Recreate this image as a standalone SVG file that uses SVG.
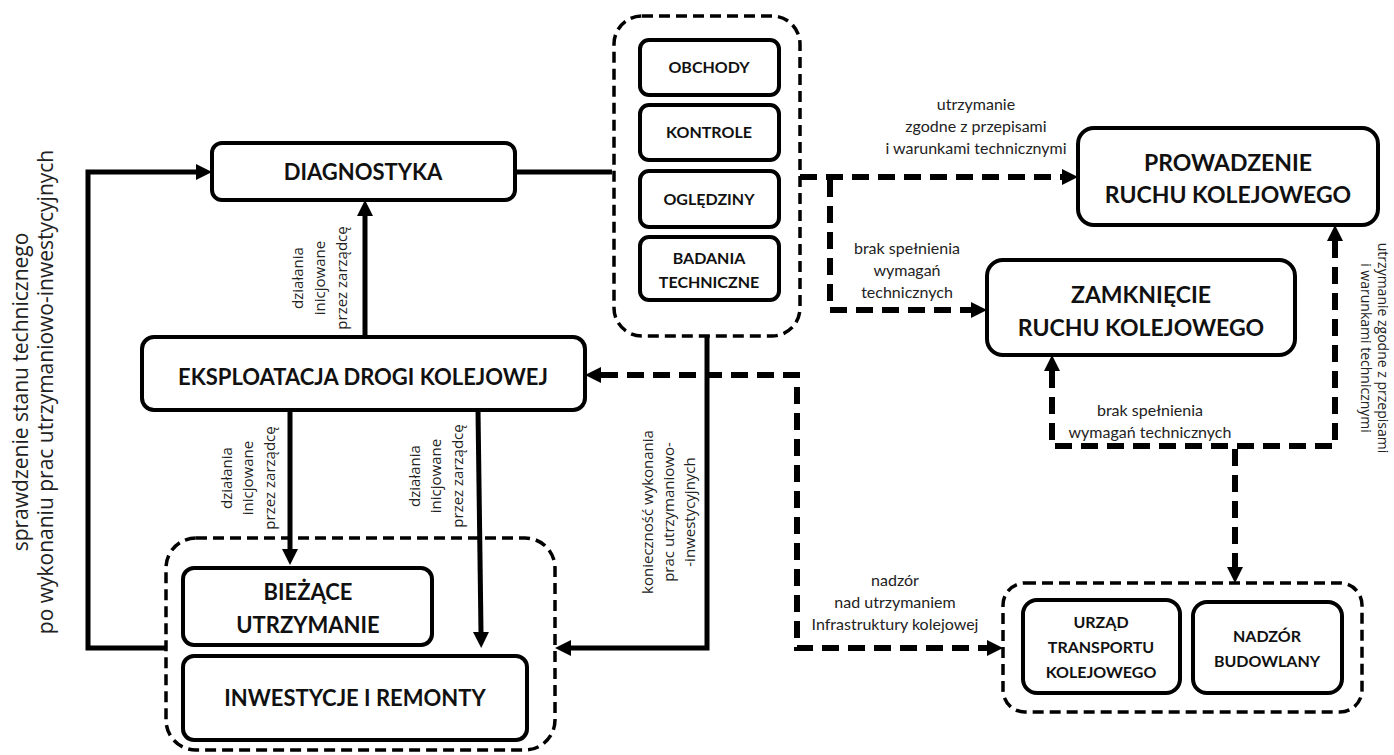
<svg xmlns="http://www.w3.org/2000/svg" width="1394" height="755" viewBox="0 0 1394 755">
  <style>
    .box { fill: #fff; stroke: #000; stroke-width: 4; }
    .grp { fill: none; stroke: #000; stroke-width: 3.5; stroke-dasharray: 11 6; }
    .solid { fill: none; stroke: #000; stroke-width: 5; }
    .dash { fill: none; stroke: #000; stroke-width: 6; stroke-dasharray: 17 9; }
    .t { font-family: Lato, "Liberation Sans", sans-serif; font-weight: bold; fill: #111; text-anchor: middle; }
    .lbl { font-family: Lato, "Liberation Sans", sans-serif; font-size: 16px; fill: #222; text-anchor: middle; }
    .rot { font-family: "Open Sans", "DejaVu Sans", sans-serif; fill: #222; text-anchor: middle; }
  </style>
  <defs>
    <marker id="ah" viewBox="0 0 16 16" markerWidth="16" markerHeight="16" refX="0" refY="8" markerUnits="userSpaceOnUse" orient="auto-start-reverse">
      <path d="M0,0 L16,8 L0,16 Z" fill="#000"/>
    </marker>
  </defs>
  <rect width="1394" height="755" fill="#fff"/>

  <!-- connectors -->
  <g id="connectors">
    <path class="solid" d="M165,648 H88 V172 H196" marker-end="url(#ah)"/>
    <path class="solid" d="M515,172 H612"/>
    <path class="solid" d="M365,337 V216" marker-end="url(#ah)"/>
    <path class="solid" d="M290,410 V549" marker-end="url(#ah)"/>
    <path class="solid" d="M478,410 L481,632" marker-end="url(#ah)"/>
    <path class="solid" d="M707,335 V648 H571" marker-end="url(#ah)"/>
    <path class="dash" d="M601,375 H797 V648 H987" marker-start="url(#ah)" marker-end="url(#ah)"/>
    <path class="dash" d="M800,177 H1062" marker-end="url(#ah)"/>
    <path class="dash" d="M830,180 V310 H971" marker-end="url(#ah)"/>
    <path class="dash" d="M1052,371 V446 H1335 V241" marker-start="url(#ah)" marker-end="url(#ah)"/>
    <path class="dash" d="M1235,449 V567" marker-end="url(#ah)"/>
  </g>

  <!-- side notes -->
  <g id="note-left" class="rot" font-size="21">
    <text transform="translate(28,392) rotate(-90)">sprawdzenie stanu technicznego</text>
    <text transform="translate(53,392) rotate(-90)">po wykonaniu prac utrzymaniowo-inwestycyjnych</text>
  </g>
  <g id="note-right" class="rot" font-size="14">
    <text transform="translate(1378,348) rotate(90)">utrzymanie zgodne z przepisami</text>
    <text transform="translate(1361,348) rotate(90)">i warunkami technicznymi</text>
  </g>

  <!-- connector labels -->
  <g id="labels">
    <g class="rot" font-size="15">
      <text transform="translate(303,278) rotate(-90)">działania</text>
      <text transform="translate(325,278) rotate(-90)">inicjowane</text>
      <text transform="translate(347,278) rotate(-90)">przez zarządcę</text>

      <text transform="translate(232,478) rotate(-90)">działania</text>
      <text transform="translate(253,478) rotate(-90)">inicjowane</text>
      <text transform="translate(275,478) rotate(-90)">przez zarządcę</text>

      <text transform="translate(420,476) rotate(-90)">działania</text>
      <text transform="translate(441,476) rotate(-90)">inicjowane</text>
      <text transform="translate(463,476) rotate(-90)">przez zarządcę</text>

      <text transform="translate(653,512) rotate(-90)">konieczność wykonania</text>
      <text transform="translate(674,512) rotate(-90)">prac utrzymaniowo-</text>
      <text transform="translate(695,512) rotate(-90)">-inwestycyjnych</text>
    </g>
    <text class="lbl" x="976" y="110">utrzymanie</text>
    <text class="lbl" x="976" y="132">zgodne z przepisami</text>
    <text class="lbl" x="976" y="154">i warunkami technicznymi</text>

    <text class="lbl" x="907" y="254">brak spełnienia</text>
    <text class="lbl" x="907" y="276">wymagań</text>
    <text class="lbl" x="907" y="298">technicznych</text>

    <text class="lbl" x="1150" y="416">brak spełnienia</text>
    <text class="lbl" x="1150" y="438">wymagań technicznych</text>

    <text class="lbl" x="895" y="586">nadzór</text>
    <text class="lbl" x="895" y="608">nad utrzymaniem</text>
    <text class="lbl" x="895" y="630">Infrastruktury kolejowej</text>
  </g>

  <!-- nodes -->
  <g id="diagnostyka">
    <rect class="box" x="212" y="143" width="303" height="57" rx="10"/>
    <text class="t" x="363" y="180" font-size="22">DIAGNOSTYKA</text>
  </g>

  <g id="eksploatacja">
    <rect class="box" x="142" y="337" width="443" height="73" rx="12"/>
    <text class="t" x="363" y="385" font-size="22">EKSPLOATACJA DROGI KOLEJOWEJ</text>
  </g>

  <g id="metody-diagnostyki">
    <rect class="grp" x="614" y="16" width="186" height="320" rx="28"/>
    <g id="obchody">
      <rect class="box" x="640" y="40" width="139" height="55" rx="9"/>
      <text class="t" x="709" y="73" font-size="16">OBCHODY</text>
    </g>
    <g id="kontrole">
      <rect class="box" x="640" y="105" width="139" height="55" rx="9"/>
      <text class="t" x="709" y="138" font-size="16">KONTROLE</text>
    </g>
    <g id="ogledziny">
      <rect class="box" x="640" y="171" width="139" height="56" rx="9"/>
      <text class="t" x="709" y="205" font-size="16">OGLĘDZINY</text>
    </g>
    <g id="badania">
      <rect class="box" x="640" y="237" width="139" height="63" rx="9"/>
      <text class="t" x="709" y="264" font-size="16">BADANIA</text>
      <text class="t" x="709" y="288" font-size="16">TECHNICZNE</text>
    </g>
  </g>

  <g id="prowadzenie">
    <rect class="box" x="1078" y="128" width="300" height="97" rx="16"/>
    <text class="t" x="1228" y="171" font-size="23">PROWADZENIE</text>
    <text class="t" x="1228" y="203" font-size="23">RUCHU KOLEJOWEGO</text>
  </g>

  <g id="zamkniecie">
    <rect class="box" x="987" y="260" width="308" height="95" rx="16"/>
    <text class="t" x="1141" y="303" font-size="23">ZAMKNIĘCIE</text>
    <text class="t" x="1141" y="336" font-size="23">RUCHU KOLEJOWEGO</text>
  </g>

  <g id="utrzymanie-i-inwestycje">
    <rect class="grp" x="166" y="538" width="389" height="212" rx="30"/>
    <g id="biezace">
      <rect class="box" x="183" y="568" width="249" height="77" rx="11"/>
      <text class="t" x="308" y="600" font-size="22">BIEŻĄCE</text>
      <text class="t" x="308" y="633" font-size="22">UTRZYMANIE</text>
    </g>
    <g id="inwestycje">
      <rect class="box" x="183" y="656" width="344" height="84" rx="11"/>
      <text class="t" x="355" y="706" font-size="22">INWESTYCJE I REMONTY</text>
    </g>
  </g>

  <g id="nadzor">
    <rect class="grp" x="1003" y="583" width="359" height="129" rx="22"/>
    <g id="utk">
      <rect class="box" x="1023" y="600" width="157" height="93" rx="14"/>
      <text class="t" x="1101" y="628" font-size="16">URZĄD</text>
      <text class="t" x="1101" y="653" font-size="16">TRANSPORTU</text>
      <text class="t" x="1101" y="678" font-size="16">KOLEJOWEGO</text>
    </g>
    <g id="nadzor-budowlany">
      <rect class="box" x="1193" y="602" width="149" height="91" rx="14"/>
      <text class="t" x="1267" y="642" font-size="16">NADZÓR</text>
      <text class="t" x="1267" y="667" font-size="16">BUDOWLANY</text>
    </g>
  </g>
</svg>
